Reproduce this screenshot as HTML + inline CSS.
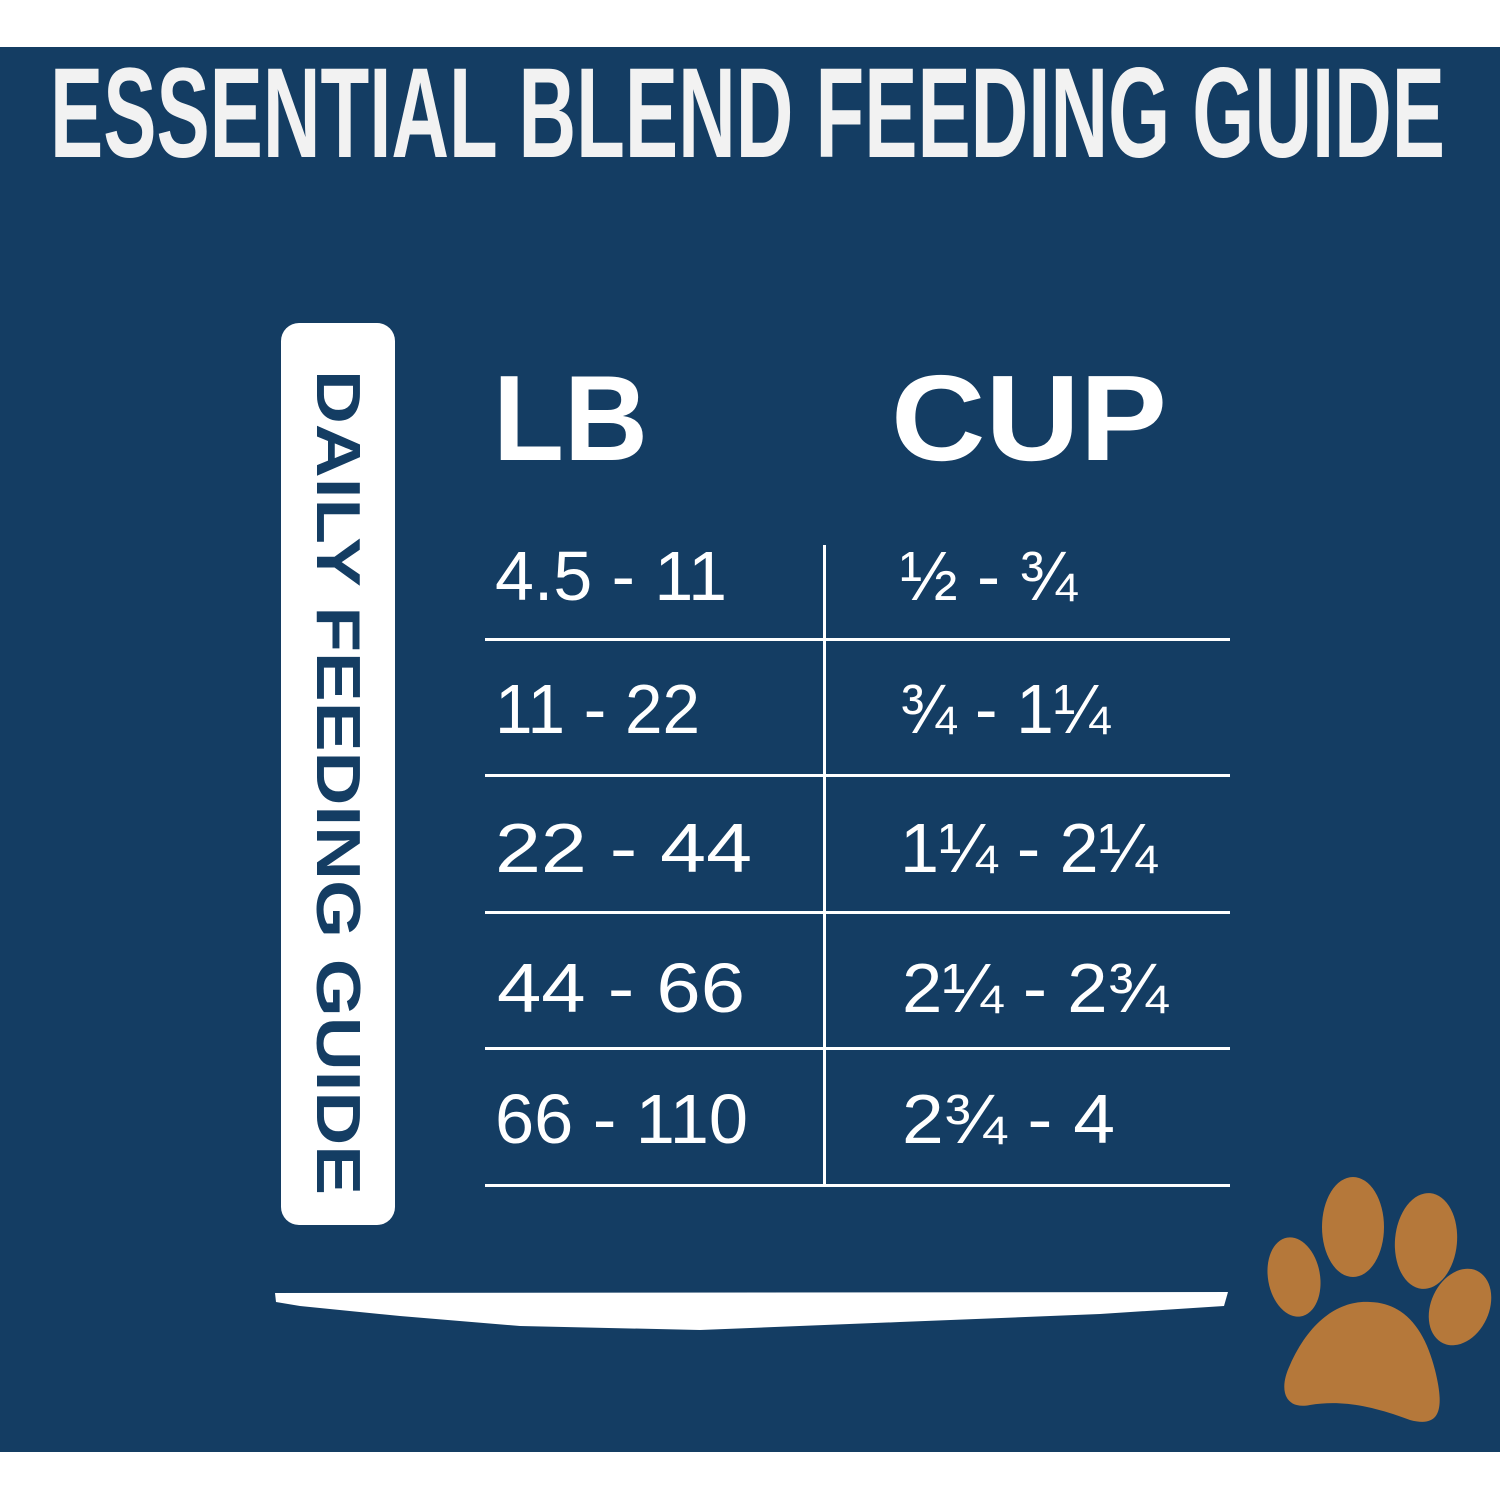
<!DOCTYPE html>
<html><head><style>
html,body{margin:0;padding:0;background:#fff;}
svg{display:block}
</style></head><body>
<svg width="1500" height="1500" viewBox="0 0 1500 1500" xmlns="http://www.w3.org/2000/svg">
<rect x="0" y="0" width="1500" height="1500" fill="#fff"/>
<rect x="0" y="47" width="1500" height="1405" fill="#143d63"/>
<text x="50" y="157" font-family="Liberation Sans Narrow, Liberation Sans, sans-serif" font-weight="bold" font-size="128" fill="#f2f2f2" textLength="1395" lengthAdjust="spacingAndGlyphs">ESSENTIAL BLEND FEEDING GUIDE</text>
<rect x="281" y="323" width="114" height="902" rx="18" fill="#fff"/>
<text transform="translate(317,370) rotate(90)" font-family="Liberation Sans, sans-serif" font-weight="bold" font-size="62" fill="#143d63" textLength="825" lengthAdjust="spacingAndGlyphs">DAILY FEEDING GUIDE</text>
<g font-family="Liberation Sans, DejaVu Sans, sans-serif" font-weight="bold" fill="#fff">
<text x="493" y="460" font-size="122" textLength="155" lengthAdjust="spacingAndGlyphs">LB</text>
<text x="891" y="460" font-size="122" textLength="276" lengthAdjust="spacingAndGlyphs">CUP</text>
</g>
<g font-family="Liberation Sans, DejaVu Sans, sans-serif" font-size="70" fill="#fff">
<text x="495" y="600" textLength="232" lengthAdjust="spacingAndGlyphs">4.5 - 11</text>
<text x="495" y="733" textLength="205" lengthAdjust="spacingAndGlyphs">11 - 22</text>
<text x="495" y="872" textLength="257" lengthAdjust="spacingAndGlyphs">22 - 44</text>
<text x="497" y="1012" textLength="248" lengthAdjust="spacingAndGlyphs">44 - 66</text>
<text x="495" y="1143" textLength="253" lengthAdjust="spacingAndGlyphs">66 - 110</text>
<text x="900" y="600" textLength="177" lengthAdjust="spacingAndGlyphs">½ - ¾</text>
<text x="900" y="733" textLength="210" lengthAdjust="spacingAndGlyphs">¾ - 1¼</text>
<text x="900" y="872" textLength="257" lengthAdjust="spacingAndGlyphs">1¼ - 2¼</text>
<text x="902" y="1012" textLength="266" lengthAdjust="spacingAndGlyphs">2¼ - 2¾</text>
<text x="902" y="1143" textLength="213" lengthAdjust="spacingAndGlyphs">2¾ - 4</text>
</g>
<g fill="#fff">
<rect x="485" y="638" width="745" height="3"/>
<rect x="485" y="774" width="745" height="3"/>
<rect x="485" y="911" width="745" height="3"/>
<rect x="485" y="1047" width="745" height="3"/>
<rect x="485" y="1184" width="745" height="3"/>
<rect x="823" y="545" width="3" height="642"/>
<polygon points="275,1293 1228,1292 1224,1306 1100,1314 900,1322 700,1330 520,1326 400,1316 300,1306 276,1302"/>
</g>
<g fill="#b5783a">
<ellipse cx="1294" cy="1277" rx="26" ry="40" transform="rotate(-10 1294 1277)"/>
<ellipse cx="1353" cy="1227" rx="31" ry="50"/>
<ellipse cx="1426" cy="1241" rx="31" ry="48" transform="rotate(5 1426 1241)"/>
<ellipse cx="1460" cy="1307" rx="29" ry="40" transform="rotate(25 1460 1307)"/>
<path d="M1290,1365 C1310,1320 1340,1300 1370,1302 C1405,1303 1425,1330 1435,1370 C1445,1410 1440,1428 1410,1420 C1370,1405 1340,1400 1310,1405 C1285,1410 1278,1390 1290,1365 Z"/>
</g>
</svg>
</body></html>
